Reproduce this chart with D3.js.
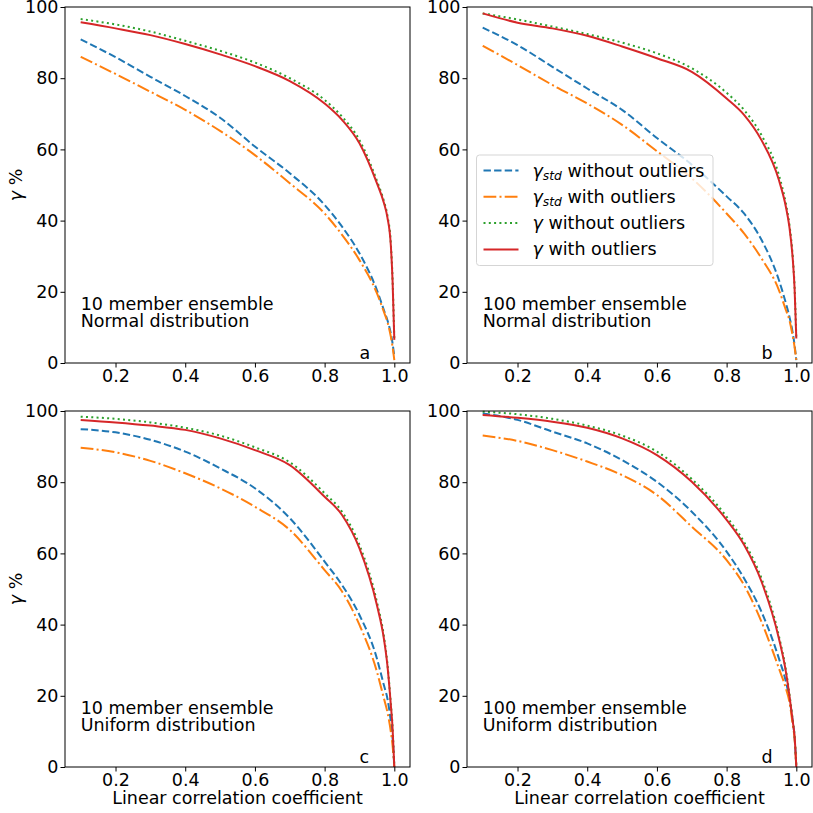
<!DOCTYPE html>
<html>
<head>
<meta charset="utf-8">
<script src="https://cdn.jsdelivr.net/npm/d3@7"></script>
<style>
  body { margin: 0; background: #fff; }
  text { font-family: "DejaVu Sans", sans-serif; fill: #000; }
  .axis path, .axis line { stroke: #000; }
  .axis text { font-size: 17.5px; }
</style>
</head>
<body>
<script>
// Linear correlation coefficient grid used for every curve
var corr = [0.1, 0.2, 0.3, 0.4, 0.5, 0.6, 0.7, 0.8, 0.85, 0.9, 0.95, 0.97, 0.98, 0.99, 0.995, 1.0];

// Panel a - 10 member, normal
var aStdNo   = [90.9, 85.9, 80.4, 75.0, 68.9, 60.8, 53.3, 44.4, 38.3, 30.8, 20.5, 14.9, 12.1, 8.3, 5.5, 1.8];
var aStdWith = [86.0, 81.2, 76.2, 71.1, 65.2, 58.4, 50.5, 42.0, 36.0, 28.9, 19.6, 14.4, 11.6, 7.4, 4.5, 0.8];
var aGamNo   = [96.6, 95.1, 93.1, 90.5, 87.7, 84.4, 80.0, 73.9, 69.2, 62.6, 51.2, 45.5, 41.5, 33.5, 23.5, 6.5];
var aGamWith = [95.7, 94.0, 92.1, 89.6, 86.7, 83.4, 79.2, 72.9, 68.3, 61.7, 50.5, 45.0, 41.0, 33.0, 23.0, 6.5];

// Panel b - 100 member, normal
var bStdNo   = [94.2, 89.3, 83.2, 77.1, 71.1, 63.2, 55.7, 46.8, 42.0, 34.6, 23.3, 16.8, 13.1, 8.3, 5.0, 0.8];
var bStdWith = [89.1, 83.7, 78.1, 72.9, 66.9, 59.5, 51.9, 42.0, 36.4, 29.4, 20.5, 14.9, 12.1, 7.4, 4.5, 0.8];
var bGamNo   = [98.2, 96.5, 94.5, 92.4, 90.0, 87.0, 82.8, 75.9, 71.1, 64.0, 52.8, 44.8, 39.0, 29.5, 21.5, 6.9];
var bGamWith = [98.2, 95.6, 94.0, 91.9, 88.9, 85.6, 81.8, 74.3, 69.7, 62.6, 51.4, 43.9, 38.3, 28.9, 21.0, 6.9];

// Panel c - 10 member, uniform
var cStdNo   = [94.9, 94.0, 91.9, 88.6, 83.9, 78.3, 69.9, 57.7, 51.1, 42.7, 30.5, 23.0, 19.3, 12.7, 8.0, 0];
var cStdWith = [89.7, 88.4, 86.0, 82.5, 78.3, 73.1, 66.6, 55.3, 49.3, 39.9, 26.8, 19.3, 15.5, 9.9, 6.0, 0];
var cGamNo   = [98.4, 97.8, 96.8, 95.3, 93.1, 89.8, 85.6, 76.9, 71.7, 62.4, 46.4, 36.8, 29.2, 17.8, 11.2, 0];
var cGamWith = [97.5, 96.8, 95.9, 94.7, 92.3, 89.0, 84.8, 75.9, 70.8, 61.4, 45.5, 36.1, 28.7, 17.4, 10.9, 0];

// Panel d - 100 member, uniform
var dStdNo   = [99.3, 97.5, 94.2, 90.9, 86.2, 80.1, 71.7, 60.5, 53.0, 43.6, 30.5, 24.0, 19.3, 12.7, 8.5, 0];
var dStdWith = [93.1, 91.6, 89.0, 85.8, 82.0, 76.4, 67.5, 58.1, 51.1, 40.8, 27.7, 22.1, 18.4, 11.8, 8.0, 0];
var dGamNo   = [99.8, 99.1, 97.8, 95.9, 93.1, 88.6, 80.9, 70.3, 63.2, 53.0, 36.8, 27.3, 20.6, 13.0, 8.8, 0];
var dGamWith = [98.9, 98.1, 97.0, 95.3, 92.3, 87.6, 80.1, 69.4, 62.4, 52.1, 36.1, 26.8, 20.2, 12.7, 8.6, 0];

var xTicks = [0.2, 0.4, 0.6, 0.8, 1.0];
var yTicks = [0, 20, 40, 60, 80, 100];

var panelLabels = ["a", "b", "c", "d"];
var ensembleText = ["10 member ensemble", "100 member ensemble", "10 member ensemble", "100 member ensemble"];
var distText = ["Normal distribution", "Normal distribution", "Uniform distribution", "Uniform distribution"];

// series styles (matplotlib tab10)
var styles = [
  { color: "#1f77b4", dash: "7.4,3.2" },
  { color: "#ff7f0e", dash: "12.8,3.2,2,3.2" },
  { color: "#2ca02c", dash: "2,3.3" },
  { color: "#d62728", dash: null }
];

var panelData = [
  [aStdNo, aStdWith, aGamNo, aGamWith],
  [bStdNo, bStdWith, bGamNo, bGamWith],
  [cStdNo, cStdWith, cGamNo, cGamWith],
  [dStdNo, dStdWith, dGamNo, dGamWith]
];

// Panel boxes in page pixels
var boxes = [
  { left: 65, top: 7 },
  { left: 467, top: 7 },
  { left: 65, top: 411 },
  { left: 467, top: 411 }
];
var width = 345, height = 356;
var fs = "17.5px";

var svg = d3.select("body").append("svg")
  .attr("width", 813)
  .attr("height", 813);

var x = d3.scaleLinear().domain([0.055, 1.045]).range([0, width]);
var y = d3.scaleLinear().domain([0, 100]).range([height, 0]);

var line = d3.line()
  .x(function(d) { return x(d[0]); })
  .y(function(d) { return y(d[1]); })
  .curve(d3.curveMonotoneX);

panelData.forEach(function(series, p) {
  var g = svg.append("g")
    .attr("transform", "translate(" + boxes[p].left + "," + boxes[p].top + ")");

  // curves
  series.forEach(function(vals, s) {
    var pts = corr.map(function(c, i) { return [c, vals[i]]; });
    g.append("path")
      .attr("d", line(pts))
      .attr("fill", "none")
      .attr("stroke", styles[s].color)
      .attr("stroke-width", 2)
      .attr("stroke-dasharray", styles[s].dash);
  });

  // axes
  g.append("g")
    .attr("class", "axis")
    .attr("transform", "translate(0," + height + ")")
    .call(d3.axisBottom(x).tickValues(xTicks).tickSize(4.5).tickPadding(2).tickFormat(d3.format(".1f")))
    .call(function(a) { a.select(".domain").remove(); });

  g.append("g")
    .attr("class", "axis")
    .call(d3.axisLeft(y).tickValues(yTicks).tickSize(4.5).tickPadding(2))
    .call(function(a) { a.select(".domain").remove(); });

  g.append("rect")
    .attr("width", width)
    .attr("height", height)
    .attr("fill", "none")
    .attr("stroke", "#000")
    .attr("stroke-width", 1);

  // annotations
  g.append("text")
    .attr("x", x(0.1))
    .attr("y", y(15))
    .style("font-size", fs)
    .text(ensembleText[p]);
  g.append("text")
    .attr("x", x(0.1))
    .attr("y", y(10))
    .style("font-size", fs)
    .text(distText[p]);
  g.append("text")
    .attr("x", x(0.9))
    .attr("y", y(1))
    .style("font-size", fs)
    .text(panelLabels[p]);

  // y label on left panels
  if (p % 2 == 0) {
    var yl = g.append("text")
      .attr("transform", "translate(-43," + height / 2 + ") rotate(-90)")
      .attr("text-anchor", "middle")
      .style("font-size", fs);
    yl.append("tspan").style("font-style", "italic").text("γ");
    yl.append("tspan").text(" %");
  }
  // x label on bottom panels
  if (p >= 2) {
    g.append("text")
      .attr("x", width / 2)
      .attr("y", height + 37)
      .attr("text-anchor", "middle")
      .style("font-size", fs)
      .text("Linear correlation coefficient");
  }
});

// Legend in panel b
var legendLabels = [
  { sym: "γ", sub: "std", rest: " without outliers" },
  { sym: "γ", sub: "std", rest: " with outliers" },
  { sym: "γ", sub: null, rest: " without outliers" },
  { sym: "γ", sub: null, rest: " with outliers" }
];

var legend = svg.append("g")
  .attr("transform", "translate(476.5,155)");

legend.append("rect")
  .attr("width", 236.5)
  .attr("height", 110.5)
  .attr("rx", 3)
  .attr("fill", "#fff")
  .attr("fill-opacity", 0.8)
  .attr("stroke", "#d5d5d5")
  .attr("stroke-width", 1);

legendLabels.forEach(function(l, i) {
  var ly = 15.5 + i * 26.3;
  legend.append("line")
    .attr("x1", 7).attr("x2", 42)
    .attr("y1", ly).attr("y2", ly)
    .attr("stroke", styles[i].color)
    .attr("stroke-width", 2)
    .attr("stroke-dasharray", styles[i].dash);
  var t = legend.append("text")
    .attr("x", 56)
    .attr("y", ly + 6)
    .style("font-size", fs);
  t.append("tspan").style("font-style", "italic").text(l.sym);
  if (l.sub) {
    t.append("tspan").style("font-style", "italic").style("font-size", "12.3px").attr("dy", 3).text(l.sub);
    t.append("tspan").attr("dy", -3).text(l.rest);
  } else {
    t.append("tspan").text(l.rest);
  }
});
</script>
</body>
</html>
